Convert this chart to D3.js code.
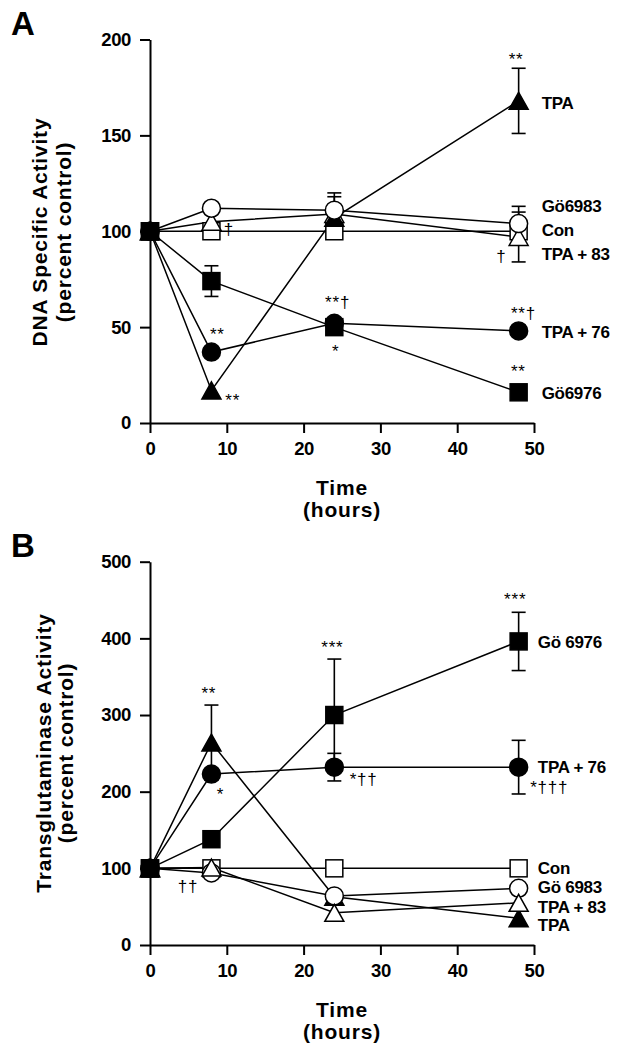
<!DOCTYPE html>
<html><head><meta charset="utf-8">
<script src="https://cdn.jsdelivr.net/npm/d3@7"></script>
<style>
body{margin:0;background:#fff}
svg{display:block}
text{font-family:"Liberation Sans",Arial,Helvetica,sans-serif;fill:#000}
.note{opacity:0.995}
</style>
</head><body>
<svg id="c" width="630" height="1050"></svg>
<script>
// ---------- DATA ----------
const times = [0, 8, 24, 48];
const xTicks = [0, 10, 20, 30, 40, 50];
const yTicksA = [0, 50, 100, 150, 200];
const yTicksB = [0, 100, 200, 300, 400, 500];

// Panel A: DNA specific activity (percent control)
const dnaCon    = [100, 100, 100, 100];
const dnaGo6983 = [100, 112, 111, 104];
const dnaTpa83  = [100, 105, 109, 97];
const dnaTpa    = [100, 17, 107, 168];
const dnaTpa76  = [100, 37, 52, 48];
const dnaGo6976 = [100, 74, 50, 16];
// error (SEM), 0 = not shown
const dnaErrGo6983 = [0, 0, 9, 9];
const dnaErrTpa83  = [0, 0, 0, 13];
const dnaErrTpa    = [0, 0, 11, 17];
const dnaErrGo6976 = [0, 8, 0, 0];

// Panel B: transglutaminase activity (percent control)
const tgCon    = [100, 100, 100, 100];
const tgGo6983 = [100, 94, 64, 74];
const tgTpa83  = [100, 101, 42, 55];
const tgTpa    = [100, 264, 63, 35];
const tgTpa76  = [100, 223, 232, 232];
const tgGo6976 = [100, 138, 300, 396];
const tgErrTpa    = [0, 49, 0, 0];
const tgErrTpa76  = [0, 0, 18, 35];
const tgErrGo6976 = [0, 0, 73, 38];

// series end labels (label text, value where label sits)
const labelsA = [["TPA", 167], ["Gö6983", 113], ["Con", 100.5], ["TPA + 83", 88], ["TPA + 76", 47.5], ["Gö6976", 15.6]];
const labelsB = [["Gö 6976", 395], ["TPA + 76", 233], ["Con", 100], ["Gö 6983", 75.5], ["TPA + 83", 50], ["TPA", 26]];

// significance annotations: [time, value (baseline), text]
const notesA = [[46.7, 186.7, "**"], [9.8, 8.9, "**"], [7.8, 43.3, "**"], [22.8, 60, "**†"],
                [23.7, 34.4, "*"], [9.6, 98, "†"], [47.0, 54.2, "**†"], [47.0, 24, "**"], [45.1, 84, "†"]];
const notesB = [[6.7, 321, "**"], [8.7, 189, "*"], [3.6, 69, "††"], [22.3, 381, "***"],
                [26.0, 209, "*††"], [46.1, 443, "***"], [49.5, 198.5, "*†††"]];

// ---------- STYLE ----------
const shapes = {con:["square",false], go6983:["circle",false], tpa83:["triangle",false],
                tpa:["triangle",true], tpa76:["circle",true], go6976:["square",true]};

const svg = d3.select("#c");
const x = d3.scaleLinear().domain([0, 50]).range([150, 534]);

function marker(g, shape, filled, cx, cy) {
  const fill = filled ? "#000" : "#fff";
  if (shape === "circle") {
    g.append("circle").attr("cx", cx).attr("cy", cy).attr("r", 9)
      .attr("fill", fill).attr("stroke", "#000").attr("stroke-width", 1.5);
  } else if (shape === "square") {
    g.append("rect").attr("x", cx - 8.5).attr("y", cy - 8.5).attr("width", 17).attr("height", 17)
      .attr("fill", fill).attr("stroke", "#000").attr("stroke-width", 1.5);
  } else {
    const w = 9.5, h = 8.5;
    g.append("path").attr("d", `M${cx},${cy - h}L${cx + w},${cy + h}L${cx - w},${cy + h}Z`)
      .attr("fill", fill).attr("stroke", "#000").attr("stroke-width", 1.5).attr("stroke-linejoin", "miter");
  }
}

function panel(cfg) {
  const g = svg.append("g");
  const y = cfg.y;
  // axes
  const ax = g.append("g").attr("transform", `translate(${x.range()[0]},0)`)
    .call(d3.axisLeft(y).tickValues(cfg.yTicks).tickSize(10).tickSizeOuter(0).tickPadding(9));
  const bx = g.append("g").attr("transform", `translate(0,${y.range()[0]})`)
    .call(d3.axisBottom(x).tickValues(xTicks).tickSize(10).tickSizeOuter(0).tickPadding(9));
  [ax, bx].forEach(a => {
    a.selectAll("path,line").attr("stroke", "#000").attr("stroke-width", 2);
    a.selectAll("text").attr("font-size", 18.5).attr("font-weight", "bold").attr("fill", "#000")
      .attr("font-family", '"Liberation Sans",Arial,sans-serif').attr("letter-spacing", -0.4);
  });
  // axis titles
  const midY = cfg.titleMid;
  g.append("text").attr("transform", `translate(${cfg.t1x},${midY}) rotate(-90)`)
    .attr("text-anchor", "middle").attr("font-size", 21).attr("font-weight", "bold").attr("letter-spacing", 0.8)
    .text(cfg.title1);
  g.append("text").attr("transform", `translate(${cfg.t2x},${midY}) rotate(-90)`)
    .attr("text-anchor", "middle").attr("font-size", 21).attr("font-weight", "bold").attr("letter-spacing", 0.8)
    .text("(percent control)");
  const base = y.range()[0];
  g.append("text").attr("x", 342).attr("y", base + 72).attr("text-anchor", "middle")
    .attr("font-size", 21).attr("font-weight", "bold").attr("letter-spacing", 0.8).text("Time");
  g.append("text").attr("x", 342).attr("y", base + 94).attr("text-anchor", "middle")
    .attr("font-size", 21).attr("font-weight", "bold").attr("letter-spacing", 0.8).text("(hours)");
  // panel letter
  g.append("text").attr("x", 11).attr("y", cfg.letterY).attr("font-size", 33).attr("font-weight", "bold")
    .text(cfg.letter);

  // lines
  const line = d3.line().x((d, i) => x(times[i])).y(d => y(d));
  cfg.order.forEach(k => {
    g.append("path").attr("d", line(cfg.data[k])).attr("fill", "none")
      .attr("stroke", "#000").attr("stroke-width", 1.5);
  });
  // error bars
  Object.keys(cfg.err).forEach(k => {
    cfg.err[k].forEach((e, i) => {
      if (!e) return;
      const v = cfg.data[k][i], cx = x(times[i]);
      const eg = g.append("g").attr("stroke", "#000").attr("stroke-width", 1.6);
      eg.append("line").attr("x1", cx).attr("x2", cx).attr("y1", y(v - e)).attr("y2", y(v + e));
      [v - e, v + e].forEach(b => eg.append("line").attr("x1", cx - 7).attr("x2", cx + 7)
        .attr("y1", y(b)).attr("y2", y(b)));
    });
  });
  // markers
  cfg.order.forEach(k => {
    cfg.data[k].forEach((v, i) => marker(g, shapes[k][0], shapes[k][1], x(times[i]), y(v)));
  });
  // series labels
  cfg.labels.forEach(([t, v]) => {
    g.append("text").attr("x", x(cfg.labelT)).attr("y", y(v)).attr("dy", "0.36em")
      .attr("font-size", 17).attr("font-weight", "bold").attr("letter-spacing", -0.3).text(t);
  });
  // annotations
  cfg.notes.forEach(([t, v, s]) => {
    g.append("text").attr("class", "note").attr("x", x(t)).attr("y", y(v)).attr("font-size", 17)
      .attr("fill", "#000").attr("letter-spacing", 0.8).text(s);
  });
}

panel({
  letter: "A", letterY: 35,
  y: d3.scaleLinear().domain([0, 200]).range([423, 39.5]),
  yTicks: yTicksA,
  title1: "DNA Specific Activity", t1x: 47, t2x: 71, titleMid: 232,
  data: {con: dnaCon, go6983: dnaGo6983, tpa83: dnaTpa83, tpa: dnaTpa, tpa76: dnaTpa76, go6976: dnaGo6976},
  err: {go6983: dnaErrGo6983, tpa83: dnaErrTpa83, tpa: dnaErrTpa, go6976: dnaErrGo6976},
  order: ["con", "tpa83", "tpa", "go6983", "tpa76", "go6976"],
  labels: labelsA, labelT: 51.0, notes: notesA
});
panel({
  letter: "B", letterY: 557,
  y: d3.scaleLinear().domain([0, 500]).range([945, 561.7]),
  yTicks: yTicksB,
  title1: "Transglutaminase Activity", t1x: 51, t2x: 73, titleMid: 753,
  data: {con: tgCon, go6983: tgGo6983, tpa83: tgTpa83, tpa: tgTpa, tpa76: tgTpa76, go6976: tgGo6976},
  err: {tpa: tgErrTpa, tpa76: tgErrTpa76, go6976: tgErrGo6976},
  order: ["con", "tpa", "go6983", "tpa83", "go6976", "tpa76"],
  labels: labelsB, labelT: 50.5, notes: notesB
});
</script>
</body></html>
